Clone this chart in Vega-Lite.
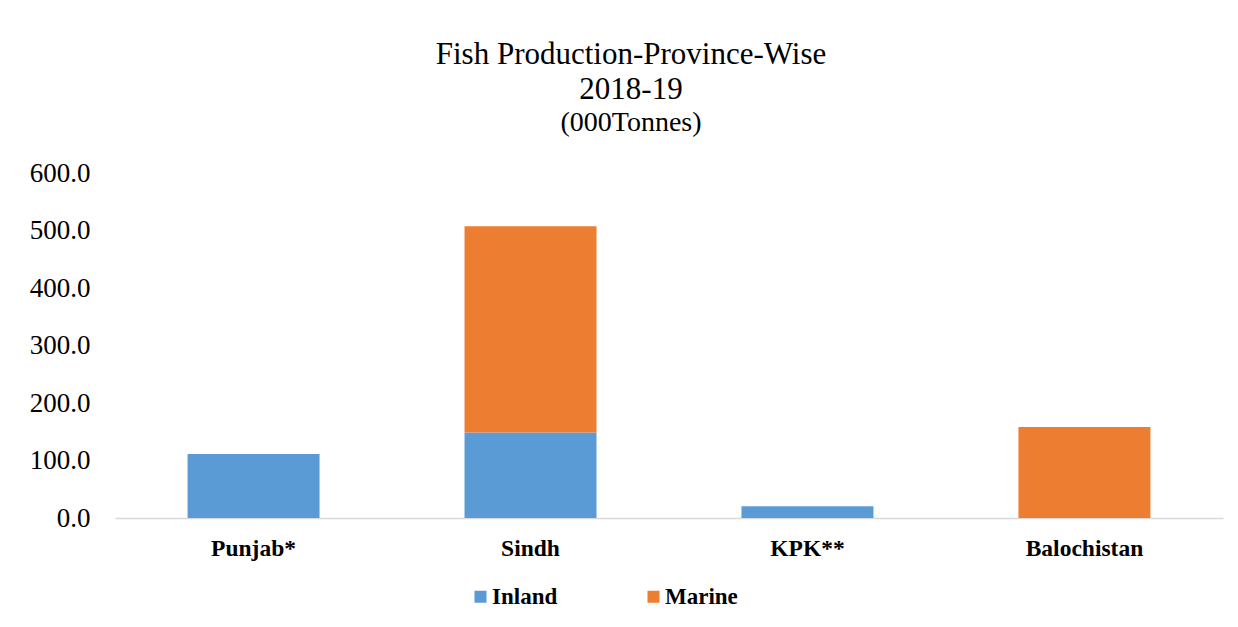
{
  "$schema": "https://vega.github.io/schema/vega-lite/v6.json",
  "width": 1108,
  "height": 345,
  "autosize": {"type": "none"},
  "padding": {"left": 115, "top": 173, "right": 15, "bottom": 109},
  "background": "white",
  "title": {
    "text": ["Fish Production-Province-Wise", "2018-19"],
    "subtitle": "(000Tonnes)",
    "font": "Liberation Serif",
    "fontSize": 31,
    "fontWeight": "normal",
    "color": "black",
    "lineHeight": 35,
    "subtitleFont": "Liberation Serif",
    "subtitleFontSize": 28,
    "subtitleColor": "black",
    "subtitlePadding": 3,
    "anchor": "middle",
    "dx": -38,
    "offset": 21
  },
  "data": {
    "values": [
      {"province": "Punjab*", "type": "Inland", "tonnes": 111.3},
      {"province": "Sindh", "type": "Inland", "tonnes": 148.6},
      {"province": "Sindh", "type": "Marine", "tonnes": 358.9},
      {"province": "KPK**", "type": "Inland", "tonnes": 20.3},
      {"province": "Balochistan", "type": "Marine", "tonnes": 158.3}
    ]
  },
  "mark": {"type": "bar"},
  "encoding": {
    "x": {
      "field": "province",
      "type": "nominal",
      "sort": ["Punjab*", "Sindh", "KPK**", "Balochistan"],
      "scale": {"paddingInner": 0.5235, "paddingOuter": 0.262},
      "axis": {
        "title": null,
        "labelAngle": 0,
        "labelFont": "Liberation Serif",
        "labelFontSize": 23.5,
        "labelFontWeight": "bold",
        "labelColor": "black",
        "labelPadding": 18,
        "ticks": false,
        "domainColor": "#d9d9d9",
        "domainWidth": 1.5
      }
    },
    "y": {
      "field": "tonnes",
      "type": "quantitative",
      "stack": "zero",
      "scale": {"domain": [0, 600]},
      "axis": {
        "title": null,
        "values": [0, 100, 200, 300, 400, 500, 600],
        "format": ".1f",
        "grid": false,
        "domain": false,
        "ticks": false,
        "labelPadding": 25,
        "labelFont": "Liberation Serif",
        "labelFontSize": 27,
        "labelColor": "black"
      }
    },
    "order": {"field": "type", "sort": "ascending"},
    "color": {
      "field": "type",
      "type": "nominal",
      "scale": {"domain": ["Inland", "Marine"], "range": ["#5B9BD5", "#ED7D31"]},
      "legend": {
        "title": null,
        "orient": "none",
        "direction": "horizontal",
        "legendX": 354,
        "legendY": 412,
        "symbolType": "square",
        "symbolSize": 144,
        "symbolStrokeWidth": 0,
        "labelFont": "Liberation Serif",
        "labelFontSize": 23,
        "labelFontWeight": "bold",
        "labelColor": "black",
        "labelOffset": 0,
        "columnPadding": 84
      }
    }
  },
  "config": {"view": {"stroke": null}}
}
